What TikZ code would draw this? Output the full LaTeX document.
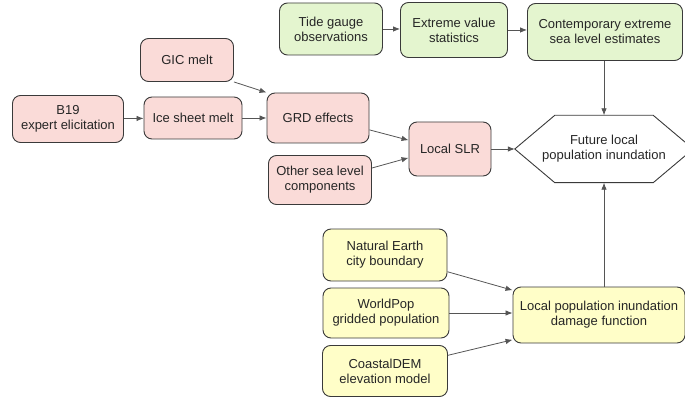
\documentclass[tikz,border=0pt]{standalone}
\usepackage{fontspec}
\setmainfont{Liberation Sans}
\usetikzlibrary{arrows.meta,calc}
\definecolor{slrpink}{HTML}{FADBD8}
\definecolor{tidegreen}{HTML}{E4F5CF}
\definecolor{popyellow}{HTML}{FFFEC8}
\definecolor{edgegray}{HTML}{3A3A3A}
\definecolor{arrowgray}{HTML}{555555}

\tikzset{
  box/.style={draw=edgegray, line width=0.9pt, rounded corners=8pt, align=center,
    inner sep=2pt, text=black!85},
  pinkbox/.style={box, fill=slrpink},
  greenbox/.style={box, fill=tidegreen},
  yellowbox/.style={box, fill=popyellow},
  flow/.style={-{Latex[length=7pt,width=5.5pt]}, arrowgray, line width=0.8pt},
}

\begin{document}
\begin{tikzpicture}[x=1pt, y=-1pt, font=\fontsize{13}{15}\selectfont]
\useasboundingbox (0,0) rectangle (685,398);

% ==================== sea level rise chain ====================
\node[pinkbox, minimum width=111pt, minimum height=47pt] (b19) at (68,119) {B19\\expert elicitation};
\node[pinkbox, minimum width=98pt, minimum height=42pt] (ice) at (193,118) {Ice sheet melt};
\node[pinkbox, minimum width=93pt, minimum height=43pt] (gic) at (187,60) {GIC melt};
\node[pinkbox, minimum width=102pt, minimum height=50pt] (grd) at (318,118) {GRD effects};
\node[pinkbox, minimum width=103pt, minimum height=49pt] (other) at (320,180) {Other sea level\\components};
\node[pinkbox, minimum width=82pt, minimum height=54pt] (slr) at (450,149) {Local SLR};

% ==================== extreme sea levels ====================
\node[greenbox, minimum width=103pt, minimum height=52pt] (tide) at (331,29) {Tide gauge\\observations};
\node[greenbox, minimum width=107pt, minimum height=55pt] (evs) at (454,30) {Extreme value\\statistics};
\node[greenbox, minimum width=155pt, minimum height=57pt] (esl) at (605,32) {Contemporary extreme\\sea level estimates};

% ==================== population exposure ====================
\node[yellowbox, minimum width=124pt, minimum height=52pt] (city) at (385,255) {Natural Earth\\city boundary};
\node[yellowbox, minimum width=126pt, minimum height=50pt] (pop) at (386,313) {WorldPop\\gridded population};
\node[yellowbox, minimum width=125pt, minimum height=51pt] (dem) at (385,371) {CoastalDEM\\elevation model};
\node[yellowbox, minimum width=172pt, minimum height=56pt] (damage) at (599,315) {Local population inundation\\damage function};

% Outcome (hexagon drawn round the node)
\node[minimum width=178pt, minimum height=67pt, align=center, text=black!85] (future) at (604,149) {Future local\\population inundation};
\draw[edgegray, line width=0.9pt] (future.west) -- ([xshift=40pt]future.north west)
  -- ([xshift=-40pt]future.north east) -- (future.east)
  -- ([xshift=-40pt]future.south east) -- ([xshift=40pt]future.south west) -- cycle;

% Connectors
\draw[flow] (b19) -- (ice);
\draw[flow] (ice) -- (grd);
\draw[flow] (gic.south east) -- (grd.north west);
\draw[flow] (grd.-13) -- (slr.168);
\draw[flow] (other.13) -- (slr.192);
\draw[flow] (slr) -- (future.west);

\draw[flow] (tide.east) -- (tide.east -| evs.west);
\draw[flow] (evs.east) -- (evs.east -| esl.west);
\draw[flow] (esl.south -| future.north) -- (future.north);

\draw[flow] (city.-15) -- (damage.164);
\draw[flow] (pop.east) -- (pop.east -| damage.west);
\draw[flow] (dem.14) -- (damage.196);
\draw[flow] (future.south |- damage.north) -- (future.south);

\end{tikzpicture}
\end{document}
